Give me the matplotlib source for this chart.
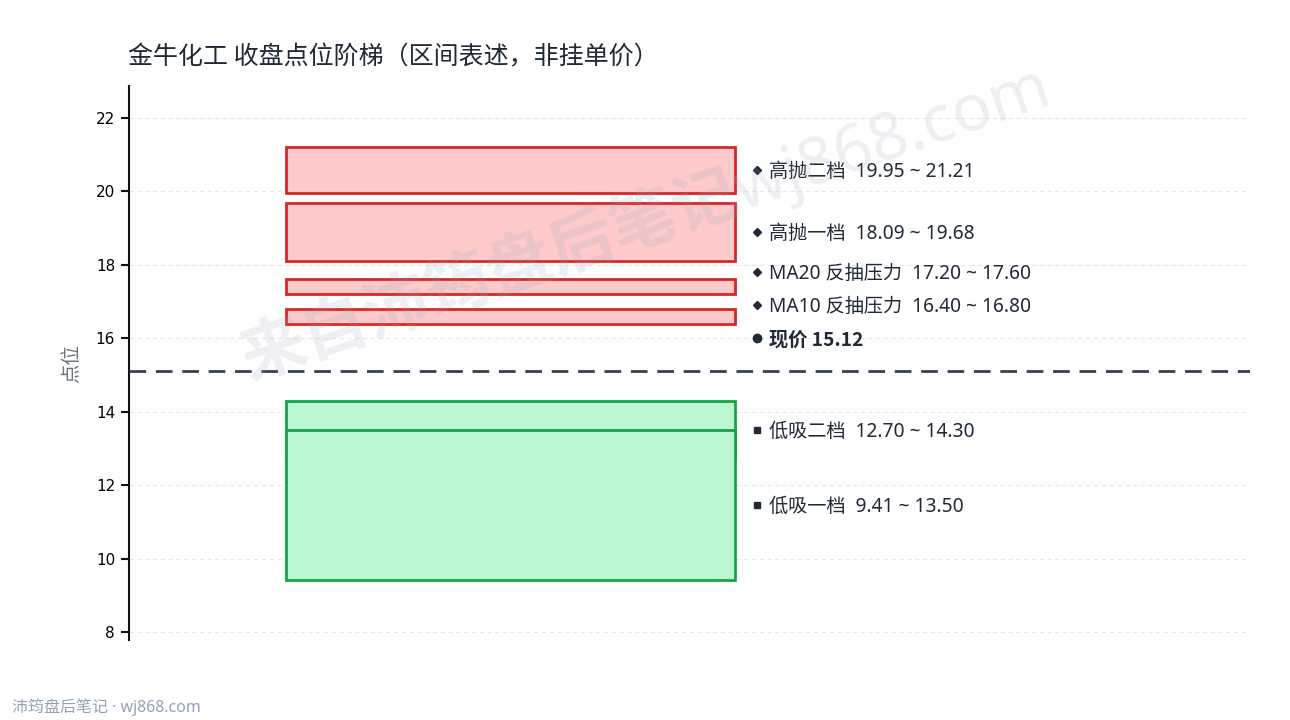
import matplotlib
matplotlib.use("Agg")
import matplotlib.pyplot as plt
from matplotlib.patches import Rectangle
import matplotlib.transforms as mtransforms

plt.rcParams['font.family'] = ['Noto Sans CJK SC', 'DejaVu Sans']

# ---- data ----
title = "金牛化工 收盘点位阶梯（区间表述，非挂单价）"
zone_names = ["高抛二档", "高抛一档", "MA20 反抽压力", "MA10 反抽压力", "低吸二档", "低吸一档"]
zone_low = [19.95, 18.09, 17.20, 16.40, 12.70, 9.41]
zone_high = [21.21, 19.68, 17.60, 16.80, 14.30, 13.50]
zone_kind = ["sell", "sell", "sell", "sell", "buy", "buy"]
price = 15.12
price_label = "现价"
y_ticks = [8, 10, 12, 14, 16, 18, 20, 22]
y_label = "点位"
footer = "沛筠盘后笔记 · wj868.com"
watermark = "来自沛筠盘后笔记wj868.com"

# ---- styles ----
styles = {
    "sell": dict(face="#fecaca", edge="#dc2626", marker="D"),
    "buy": dict(face="#bbf7d0", edge="#16a34a", marker="s"),
}
text_color = "#1f2937"
mixed = ["Noto Sans", "Noto Sans CJK SC", "DejaVu Sans"]
cjk = ["Noto Sans CJK SC", "DejaVu Sans"]

fig = plt.figure(figsize=(12.9, 7.2), dpi=100)
ax = fig.add_axes([0.1, 0.111, 0.869, 0.7696])
ax.set_xlim(0, 1)
ax.set_ylim(7.78, 22.87)

# zones
x0, x1 = 0.14, 0.541
for name, lo, hi, kind in zip(zone_names, zone_low, zone_high, zone_kind):
    st = styles[kind]
    ax.add_patch(Rectangle((x0, lo), x1 - x0, hi - lo, facecolor=st["face"],
                           edgecolor=st["edge"], linewidth=2, zorder=3))

# price line
ax.axhline(price, color="#374151", linewidth=2, linestyle=(0, (6, 3.5)), zorder=4)

# labels with simple collision avoidance (ascending)
items = []
for name, lo, hi, kind in zip(zone_names, zone_low, zone_high, zone_kind):
    items.append(dict(y=(lo + hi) / 2, text=f"{name}  {lo:.2f} ~ {hi:.2f}",
                      marker=styles[kind]["marker"], bold=False, ms=4.5))
items.append(dict(y=price + 0.88, text=f"{price_label} {price:.2f}",
                  marker="o", bold=True, ms=6))
items.sort(key=lambda d: d["y"])
gap = 0.9
prev = None
for it in items:
    if prev is not None and it["y"] < prev + gap:
        it["y"] = prev + gap
    prev = it["y"]

trans = mtransforms.blended_transform_factory(ax.transAxes, ax.transData)
for it in items:
    ax.plot([0.5605], [it["y"]], marker=it["marker"], color=text_color,
            markersize=it["ms"], transform=trans, zorder=5, clip_on=False, linestyle="none")
    ax.text(0.571, it["y"] - 0.05, it["text"], transform=trans, va="center", ha="left",
            fontsize=13.8, color=text_color, family=cjk if it["bold"] else mixed,
            fontweight="bold" if it["bold"] else "normal", zorder=5)

# axes styling
ax.set_yticks(y_ticks)
ax.set_yticklabels([str(t) for t in y_ticks], family="DejaVu Sans", fontsize=11)
ax.set_xticks([])
for s in ["top", "right", "bottom"]:
    ax.spines[s].set_visible(False)
ax.spines["left"].set_linewidth(1.5)
ax.spines["left"].set_color("#111111")
ax.tick_params(axis="y", length=6, width=1.5, color="#111111", pad=4)
ax.grid(axis="y", color="#e5e7eb", linestyle=(0, (4, 3)), linewidth=0.8, zorder=0)
ax.set_axisbelow(True)
ax.set_ylabel(y_label, fontsize=14, color="#6b7280", labelpad=10)

# title and footer
fig.text(128 / 1290, 1 - 57 / 720, title, fontsize=18, color="#1f2937",
         ha="left", va="center")
fig.text(12 / 1290, 1 - 707 / 720, footer, fontsize=11.5, color="#94a3b8",
         ha="left", va="center", family=mixed)

# watermark
fig.text(645 / 1290, 1 - 222 / 720, watermark, fontsize=47, fontweight="bold",
         color="#94a3b8", alpha=0.17, rotation=19, ha="center", va="center", zorder=10,
         family=mixed)

fig.savefig("out.png", dpi=100)
